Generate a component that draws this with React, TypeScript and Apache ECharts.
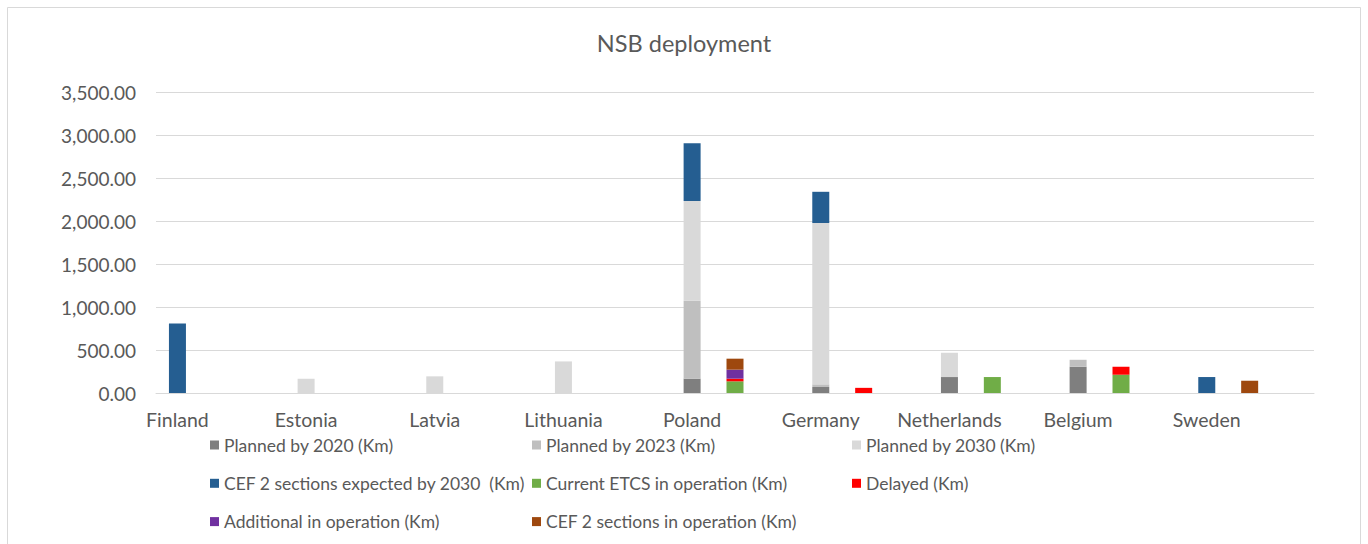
import React, { useEffect, useRef } from "react";
import * as echarts from "echarts";

const countries = ["Finland", "Estonia", "Latvia", "Lithuania", "Poland", "Germany", "Netherlands", "Belgium", "Sweden"];
// first stack (planned)
const planned2020 = [0, 0, 0, 0, 167, 70, 186, 306, 0];
const planned2023 = [0, 0, 0, 0, 907, 31, 0, 81, 0];
const planned2030 = [0, 166, 194, 368, 1163, 1880, 283, 0, 0];
const cef2Expected = [810, 0, 0, 0, 675, 364, 0, 0, 186];
// second stack (in operation)
const currentEtcs = [0, 0, 0, 0, 136, 0, 186, 213, 0];
const delayed = [0, 0, 0, 0, 31, 60, 0, 93, 0];
const additional = [0, 0, 0, 0, 105, 0, 0, 0, 0];
const cef2Operation = [0, 0, 0, 0, 128, 0, 0, 0, 143];

const yTicks = [0, 500, 1000, 1500, 2000, 2500, 3000, 3500];

const FONT = "Lato, 'Noto Sans', sans-serif";
const TXT = "#595959";

const slots: string[] = [];
countries.forEach((c) => {
  slots.push(c, c + "__b", c + "__c");
});

function toSlots(values: number[], offset: number) {
  const out: (number | null)[] = new Array(slots.length).fill(null);
  values.forEach((v, i) => {
    out[i * 3 + offset] = v > 0 ? v : null;
  });
  return out;
}

const seriesDefs = [
  { name: "Planned by 2020 (Km)", data: planned2020, group: 0, color: "#7f7f7f" },
  { name: "Planned by 2023 (Km)", data: planned2023, group: 0, color: "#bfbfbf" },
  { name: "Planned by 2030 (Km)", data: planned2030, group: 0, color: "#d9d9d9" },
  { name: "CEF 2 sections expected by 2030  (Km)", data: cef2Expected, group: 0, color: "#255e91" },
  { name: "Current ETCS in operation (Km)", data: currentEtcs, group: 1, color: "#70ad47" },
  { name: "Delayed (Km)", data: delayed, group: 1, color: "#ff0000" },
  { name: "Additional in operation (Km)", data: additional, group: 1, color: "#7030a0" },
  { name: "CEF 2 sections in operation (Km)", data: cef2Operation, group: 1, color: "#9e480e" },
];

const legendColumns = [
  [0, 3, 6],
  [1, 4, 7],
  [2, 5],
];
const legendLeft = [205, 527, 847];

export default function App() {
  const ref = useRef<HTMLDivElement>(null);
  useEffect(() => {
    document.body.style.margin = "0";
    const chart = echarts.init(ref.current!, null, { renderer: "svg" });
    chart.setOption({
      animation: false,
      backgroundColor: "#ffffff",
      title: {
        text: "NSB deployment",
        left: "center",
        top: 26,
        textStyle: { fontFamily: FONT, fontSize: 23.5, fontWeight: "normal", color: TXT },
      },
      graphic: [
        {
          type: "rect",
          shape: { x: 7.5, y: 7.5, width: 1353, height: 545 },
          style: { fill: "none", stroke: "#d9d9d9", lineWidth: 1 },
          silent: true,
        },
      ],
      legend: legendColumns.map((col, ci) => ({
        orient: "vertical",
        left: legendLeft[ci],
        top: 431,
        itemWidth: 9,
        itemHeight: 9,
        itemGap: 20.3,
        icon: "rect",
        selectedMode: false,
        data: col.map((i) => seriesDefs[i].name),
        textStyle: { fontFamily: FONT, fontSize: 17.5, color: TXT },
      })),
      grid: { left: 156, right: 54, top: 92.7, bottom: 151, containLabel: false },
      xAxis: {
        type: "category",
        data: slots,
        boundaryGap: true,
        axisLine: { show: true, lineStyle: { color: "#d9d9d9", width: 1 } },
        axisTick: { show: false },
        axisLabel: {
          interval: 0,
          margin: 16,
          fontFamily: FONT,
          fontSize: 19.5,
          color: TXT,
          formatter: (v: string) => (v.indexOf("__") >= 0 ? "" : v),
        },
      },
      yAxis: {
        type: "value",
        min: yTicks[0],
        max: yTicks[yTicks.length - 1],
        interval: 500,
        axisLine: { show: false },
        axisTick: { show: false },
        splitLine: { lineStyle: { color: "#d9d9d9", width: 1 } },
        axisLabel: {
          margin: 20,
          fontFamily: FONT,
          fontSize: 19,
          color: TXT,
          formatter: (v: number) =>
            v.toLocaleString("en-US", { minimumFractionDigits: 2, maximumFractionDigits: 2 }),
        },
      },
      series: seriesDefs.map((s) => ({
        name: s.name,
        type: "bar",
        stack: "all",
        barWidth: 17,
        data: toSlots(s.data, s.group),
        itemStyle: { color: s.color },
      })),
    });
    return () => chart.dispose();
  }, []);
  return <div ref={ref} style={{ width: 1368, height: 544 }} />;
}
